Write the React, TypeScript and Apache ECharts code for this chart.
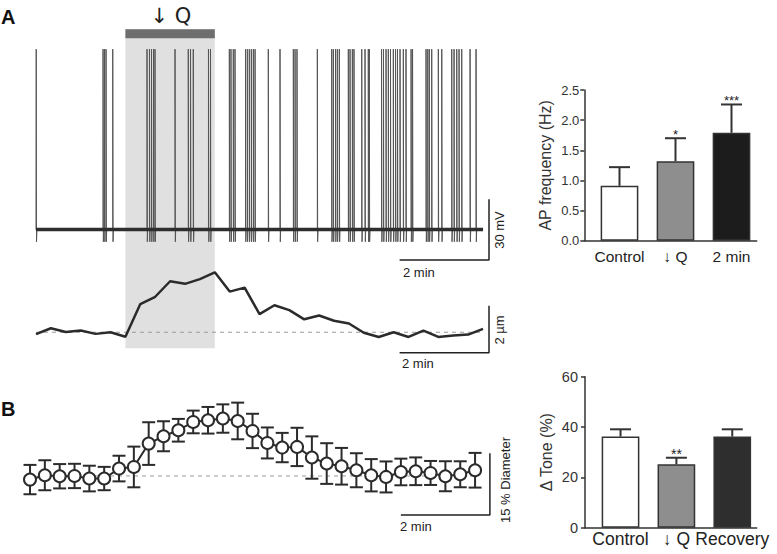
import React, { useEffect, useRef } from 'react';
import * as echarts from 'echarts';

// ---- Panel A: membrane potential trace (spike times in s) ----
const spikeTimes = [0.3, 90, 92, 94, 103, 149, 152.3, 155, 157.7, 159.7, 186.6, 204.4, 207.4, 211.1, 231.5, 234.2,
  259.5, 261.7, 264.8, 267.1, 281.2, 283.6, 286.3, 289, 291.7, 294, 311.8, 327.5, 345.4, 347.7, 350.3, 377.6,
  396.9, 399.1, 402, 404.4, 407.1, 419.2, 421.5, 424.6, 426.8, 437.2, 441.6, 446, 447.4, 463.8, 466.4, 469.8,
  472.9, 475.8, 479.6, 482.6, 485.2, 488.6, 493, 496.6, 503.4, 505.4, 523.5, 525.8, 527.9, 531.1, 540, 544.6,
  558, 561.1, 564.7, 567.8, 571.4, 582.6, 590.6];
const restMV = -55;
const peakMV = 34;
const ahpMV = -61;
const qStart = 120;
const qEnd = 240;

// ---- Panel A: diameter trace (µm change), sampled every 20 s ----
const diamTimes = [0, 20, 40, 60, 80, 100, 120, 140, 160, 180, 200, 220, 240, 260, 280, 300, 320, 340, 360, 380,
  400, 420, 440, 460, 480, 500, 520, 540, 560, 580, 600];
const diamA = [-0.08, 0.17, 0.01, 0.07, -0.07, 0, -0.19, 1.2, 1.51, 2.17, 2.06, 2.26, 2.55, 1.73, 1.9, 0.77, 1.15,
  0.94, 0.55, 0.71, 0.49, 0.37, -0.02, -0.2, 0, -0.2, 0.07, -0.2, -0.14, -0.1, 0.14];

// ---- Panel B: mean diameter (% change) ± SEM ----
const diamB = [-0.88, 0.17, -0.07, 0, -0.63, -0.63, 1.8, 2.19, 7.88, 9.66, 11.12, 13.14, 13.55, 13.97, 13.38, 10.95,
  8.03, 6.91, 7.06, 4.48, 3.02, 2.36, 1.39, 0.17, -0.24, 0.97, 1.14, 0.73, -0.07, 0.41, 1.39];
const semB = [3.57, 3.65, 2.96, 2.96, 3.12, 2.84, 3.12, 4.95, 5.19, 3.65, 2.76, 2.76, 3.24, 3.45, 4.46, 4.18, 3.77,
  3.57, 4.66, 5.15, 4.95, 4.46, 4.14, 3.93, 3.77, 3.24, 3.37, 2.92, 3.65, 3.16, 4.22];

// ---- Bar charts ----
const apCats = ['Control', '↓ Q', '2 min'];
const apMean = [0.91, 1.32, 1.79];
const apSem = [0.31, 0.38, 0.47];
const apSig = ['', '*', '***'];
const apTicks = [0, 0.5, 1.0, 1.5, 2.0, 2.5];

const toneCats = ['Control', '↓ Q', 'Recovery'];
const toneMean = [36.2, 25.2, 36.2];
const toneSem = [2.9, 2.6, 2.9];
const toneSig = ['', '**', ''];
const toneTicks = [0, 20, 40, 60];

const FONT = '"Liberation Sans", "DejaVu Sans", Arial, Helvetica, sans-serif';
const DARK = '#2b2b2b';

function buildOption(): any {
  const spikeData: number[][] = [[0, restMV]];
  spikeTimes.forEach((t) => {
    spikeData.push([t, restMV], [t, peakMV], [t + 0.4, ahpMV], [t + 0.9, restMV]);
  });
  spikeData.push([600, restMV]);

  const hidden = { show: false, splitLine: { show: false } };
  const traceX = (gridIndex: number, max: number) => ({ type: 'value', gridIndex, min: 0, max, ...hidden });
  const hidY = (gridIndex: number, min: number, max: number) => ({ type: 'value', gridIndex, min, max, ...hidden });

  const frameX = (gridIndex: number) => ({
    type: 'value', gridIndex, min: 0, max: 1,
    axisLine: { show: true, lineStyle: { color: '#333', width: 1.5 } },
    axisTick: { show: false }, axisLabel: { show: false }, splitLine: { show: false },
  });
  const frameY = (gridIndex: number, ticks: number[], interval: number, name: string, fs: number, nameFs: number, nameGap: number, decimals: number, margin: number) => ({
    type: 'value', gridIndex, min: ticks[0], max: ticks[ticks.length - 1], interval,
    axisLine: { show: true, lineStyle: { color: '#333', width: 1.5 } },
    axisTick: { show: true, length: 4, lineStyle: { color: '#333', width: 1.5 } },
    axisLabel: { fontSize: fs, color: '#333', fontFamily: FONT, margin, formatter: (v: number) => v.toFixed(decimals) },
    splitLine: { show: false },
    name, nameLocation: 'middle', nameGap,
    nameTextStyle: { fontSize: nameFs, color: '#333', fontFamily: FONT },
  });
  const catX = (gridIndex: number, data: string[], fs: number, margin: number) => ({
    type: 'category', gridIndex, data,
    axisLine: { show: false }, axisTick: { show: false },
    axisLabel: { fontSize: fs, color: '#222', fontFamily: FONT, margin, interval: 0 },
  });

  const scaleBar = (xi: number, pts: number[][]) => ({
    type: 'line', xAxisIndex: xi, yAxisIndex: xi, data: pts, showSymbol: false, clip: false, silent: true,
    lineStyle: { color: '#222', width: 1.5 }, z: 5,
  });
  const dashed = (xi: number, y0: number, t1: number) => ({
    type: 'line', xAxisIndex: xi, yAxisIndex: xi, data: [[0, y0], [t1, y0]], showSymbol: false, silent: true,
    lineStyle: { color: '#9a9a9a', width: 1, type: [4, 4] }, z: 2,
  });

  const barErr = (xi: number, means: number[], sems: number[], sig: string[], cap: number, fs: number) => ({
    type: 'custom', xAxisIndex: xi, yAxisIndex: xi, z: 6, silent: true,
    data: means.map((m, i) => [i, m, sems[i]]),
    renderItem: (params: any, api: any) => {
      const i = api.value(0), m = api.value(1), s = api.value(2);
      const base = api.coord([i, m]);
      const top = api.coord([i, m + s]);
      const st = { stroke: '#333', lineWidth: 2 };
      const children: any[] = [
        { type: 'line', shape: { x1: base[0], y1: base[1], x2: base[0], y2: top[1] }, style: st },
        { type: 'line', shape: { x1: base[0] - cap, y1: top[1], x2: base[0] + cap, y2: top[1] }, style: st },
      ];
      const label = sig[params.dataIndex];
      if (label) {
        children.push({ type: 'text', style: { text: label, x: base[0], y: top[1] + 3, align: 'center', verticalAlign: 'bottom', fontSize: fs, fontFamily: FONT, fill: '#222' } });
      }
      return { type: 'group', children };
    },
  });

  const barSeries = (xi: number, means: number[], colors: string[], width: number) => ({
    type: 'bar', xAxisIndex: xi, yAxisIndex: xi, barWidth: width, silent: true, z: 4,
    data: means.map((m, i) => ({ value: m, itemStyle: { color: colors[i], borderColor: '#333', borderWidth: 1.5 } })),
  });

  const txt = (text: string, x: number, y: number, fs: number, extra: any = {}) => ({
    type: 'text', x, y, silent: true,
    style: { text, fontSize: fs, fontFamily: FONT, fill: '#222', align: 'left', verticalAlign: 'middle', ...extra },
  });
  const vtxt = (text: string, x: number, y: number, fs: number) => ({
    type: 'text', x, y, rotation: Math.PI / 2, silent: true,
    style: { text, fontSize: fs, fontFamily: FONT, fill: '#222', align: 'center', verticalAlign: 'middle' },
  });

  return {
    animation: false,
    backgroundColor: '#ffffff',
    grid: [
      { left: 36, top: 37, width: 453, height: 223 },       // 0 spikes
      { left: 36, top: 258.8, width: 453, height: 94 },     // 1 diameter A
      { left: 36, top: 29.3, width: 453, height: 319 },     // 2 shaded window
      { left: 30, top: 391.7, width: 459.9, height: 123.3 },// 3 diameter B
      { left: 584.3, top: 90, width: 172.4, height: 150.7 },// 4 AP frame
      { left: 591.5, top: 90, width: 168, height: 150.7 },  // 5 AP bars
      { left: 585, top: 376.7, width: 171.7, height: 151 }, // 6 tone frame
      { left: 592.6, top: 376.7, width: 167.6, height: 151 },// 7 tone bars
    ],
    xAxis: [
      traceX(0, 608), traceX(1, 608), traceX(2, 608), traceX(3, 620),
      frameX(4), catX(5, apCats, 15.5, 8), frameX(6), catX(7, toneCats, 17.5, 2),
    ],
    yAxis: [
      hidY(0, -70, 40), hidY(1, -0.875, 3.125), hidY(2, 0, 1), hidY(3, -9.5, 20.5),
      frameY(4, apTicks, 0.5, 'AP frequency (Hz)', 13, 16, 31, 1, 5),
      hidY(5, 0, 2.5),
      frameY(6, toneTicks, 20, 'Δ Tone (%)', 14.5, 16, 31, 0, 7),
      hidY(7, 0, 60),
    ],
    series: [
      {
        type: 'line', xAxisIndex: 2, yAxisIndex: 2, data: [], z: 0, silent: true,
        markArea: {
          silent: true,
          data: [
            [{ xAxis: qStart, yAxis: 0, itemStyle: { color: '#e0e0e0' } }, { xAxis: qEnd, yAxis: 1 }],
            [{ xAxis: qStart, yAxis: 0.972, itemStyle: { color: '#6e6e6e' } }, { xAxis: qEnd, yAxis: 1 }],
          ],
        },
      },
      {
        type: 'line', xAxisIndex: 0, yAxisIndex: 0, data: spikeData, showSymbol: false, silent: true, z: 3,
        lineStyle: { color: '#555', width: 1 },
      },
      {
        type: 'line', xAxisIndex: 0, yAxisIndex: 0, data: [[0, restMV], [600, restMV]], showSymbol: false, silent: true, z: 4,
        lineStyle: { color: '#2e2e2e', width: 3.5 },
      },
      scaleBar(0, [[488, -70], [608, -70], [608, -40]]),
      dashed(1, 0, 600),
      {
        type: 'line', xAxisIndex: 1, yAxisIndex: 1, data: diamTimes.map((t, i) => [t, diamA[i]]), showSymbol: false,
        silent: true, z: 4, lineStyle: { color: DARK, width: 2.5 },
      },
      scaleBar(1, [[488, -0.875], [608, -0.875], [608, 1.125]]),
      dashed(3, 0, 600),
      {
        type: 'custom', xAxisIndex: 3, yAxisIndex: 3, z: 3, silent: true,
        data: diamTimes.map((t, i) => [t, diamB[i], semB[i]]),
        renderItem: (_p: any, api: any) => {
          const t = api.value(0), m = api.value(1), s = api.value(2);
          const hi = api.coord([t, m + s]);
          const lo = api.coord([t, m - s]);
          const st = { stroke: DARK, lineWidth: 2 };
          const hw = 6.5;
          return {
            type: 'group', children: [
              { type: 'line', shape: { x1: hi[0], y1: hi[1], x2: lo[0], y2: lo[1] }, style: st },
              { type: 'line', shape: { x1: hi[0] - hw, y1: hi[1], x2: hi[0] + hw, y2: hi[1] }, style: st },
              { type: 'line', shape: { x1: lo[0] - hw, y1: lo[1], x2: lo[0] + hw, y2: lo[1] }, style: st },
            ],
          };
        },
      },
      {
        type: 'line', xAxisIndex: 3, yAxisIndex: 3, data: diamTimes.map((t, i) => [t, diamB[i]]), silent: true, z: 5,
        symbol: 'circle', symbolSize: 12, showSymbol: true,
        itemStyle: { color: '#ffffff', borderColor: DARK, borderWidth: 2 },
        lineStyle: { color: DARK, width: 2 },
      },
      scaleBar(3, [[500, -9.5], [620, -9.5], [620, 5.5]]),
      barSeries(5, apMean, ['#ffffff', '#8e8e8e', '#1c1c1c'], 37.7),
      barErr(5, apMean, apSem, apSig, 10.5, 13),
      barSeries(7, toneMean, ['#ffffff', '#8e8e8e', '#2e2e2e'], 37.7),
      barErr(7, toneMean, toneSem, toneSig, 10.5, 14),
    ],
    graphic: [
      txt('A', 1, 17, 20, { fontWeight: 'bold', fill: '#111' }),
      txt('B', 1, 409, 20, { fontWeight: 'bold', fill: '#111' }),
      txt('↓ Q', 171, 16, 21, { align: 'center', fontFamily: '"DejaVu Sans", "Liberation Sans", sans-serif' }),
      txt('2 min', 403, 272.5, 13),
      txt('2 min', 402, 363, 13),
      txt('2 min', 400, 526, 13),
      vtxt('30 mV', 499, 230, 13),
      vtxt('2 µm', 499, 330, 13),
      vtxt('15 % Diameter', 505, 480, 13),
    ],
  };
}

export default function App() {
  const ref = useRef<HTMLDivElement>(null);
  useEffect(() => {
    if (!ref.current) return;
    const chart = echarts.init(ref.current, null, { renderer: 'svg' });
    chart.setOption(buildOption());
    return () => chart.dispose();
  }, []);
  return (
    <div
      ref={ref}
      style={{ position: 'fixed', left: 0, top: 0, width: 777, height: 554, background: '#ffffff' }}
    />
  );
}
